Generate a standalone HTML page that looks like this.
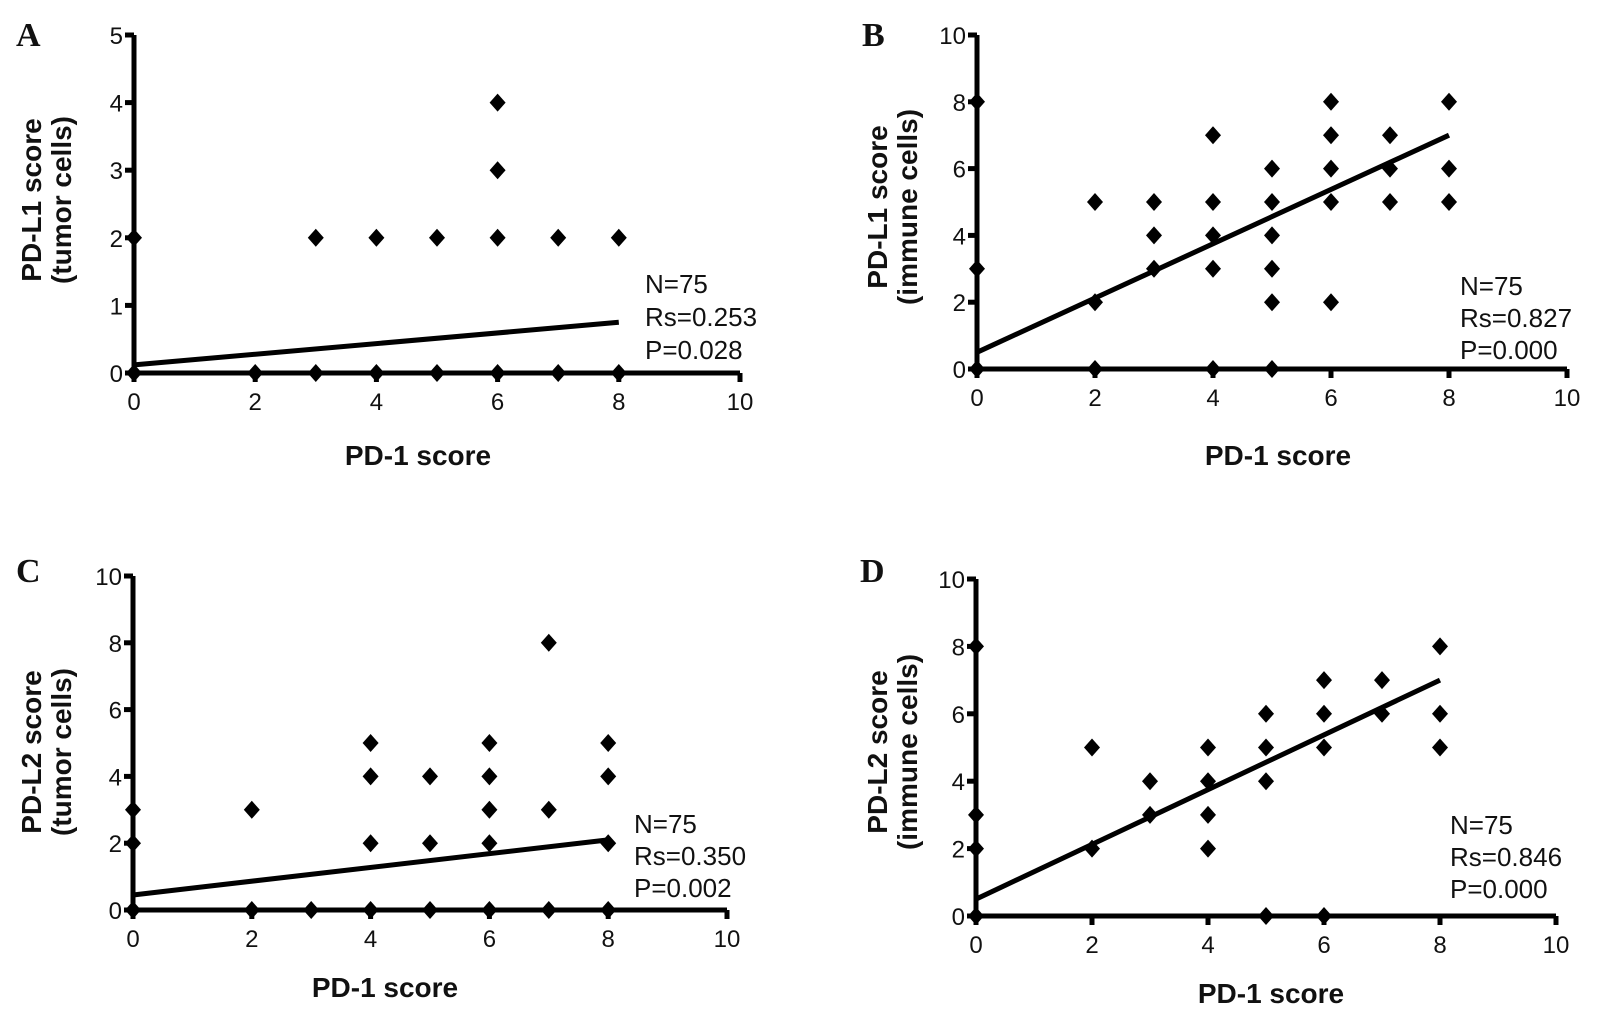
<!DOCTYPE html>
<html><head><meta charset="utf-8"><style>
html,body{margin:0;padding:0;background:#fff;}
svg{display:block;}
text{font-family:"Liberation Sans",sans-serif;fill:#111;}
.tick{font-size:24px;}
.title{font-size:28px;font-weight:bold;}
.stat{font-size:26px;}
.letter{font-family:"Liberation Serif",serif;font-size:34px;font-weight:bold;}
</style></head><body>
<svg id="fig" width="1599" height="1024" viewBox="0 0 1599 1024" xmlns="http://www.w3.org/2000/svg"></svg>
<script>
// Panel A data
const aX = [0,0,2,3,3,4,4,5,5,6,6,6,6,7,7,8,8];
const aY = [0,2,0,0,2,0,2,0,2,0,2,3,4,0,2,0,2];
const aLine = [0.12, 0.75];
const aYTicks = [0,1,2,3,4,5];
const aStats = ["N=75","Rs=0.253","P=0.028"];
// Panel B data
const bX = [0,0,0,2,2,2,3,3,3,4,4,4,4,4,5,5,5,5,5,5,6,6,6,6,6,7,7,7,8,8,8];
const bY = [0,3,8,0,2,5,3,4,5,0,3,4,5,7,0,2,3,4,5,6,2,5,6,7,8,5,6,7,5,6,8];
const bLine = [0.5, 7.0];
const bStats = ["N=75","Rs=0.827","P=0.000"];
// Panel C data
const cX = [0,0,0,2,2,3,4,4,4,4,5,5,5,6,6,6,6,6,7,7,7,8,8,8,8];
const cY = [0,2,3,0,3,0,0,2,4,5,0,2,4,0,2,3,4,5,0,3,8,0,2,4,5];
const cLine = [0.45, 2.1];
const cStats = ["N=75","Rs=0.350","P=0.002"];
// Panel D data
const dX = [0,0,0,0,2,2,3,3,4,4,4,4,5,5,5,5,6,6,6,6,7,7,8,8,8];
const dY = [0,2,3,8,2,5,3,4,2,3,4,5,0,4,5,6,0,5,6,7,6,7,5,6,8];
const dLine = [0.5, 7.0];
const dStats = ["N=75","Rs=0.846","P=0.000"];
const xTicks = [0,2,4,6,8,10];
const y10Ticks = [0,2,4,6,8,10];

const NS="http://www.w3.org/2000/svg";
const svg=document.getElementById('fig');
function mk(tag,attrs,parent){const e=document.createElementNS(NS,tag);for(const k in attrs)e.setAttribute(k,attrs[k]);(parent||svg).appendChild(e);return e;}

const panels=[
 {id:'a',letter:'A',lx:16,ly:46,x0:134,x1:740,y0:373,y1:35,ymax:5,yt:aYTicks,xs:aX,ys:aY,line:aLine,stats:aStats,sx:645,sy:293,sdy:33,
  yl1:'PD-L1 score',yl2:'(tumor cells)',ytx:41,yty:200,xtx:418,xty:465},
 {id:'b',letter:'B',lx:862,ly:46,x0:977,x1:1567,y0:369,y1:35,ymax:10,yt:y10Ticks,xs:bX,ys:bY,line:bLine,stats:bStats,sx:1460,sy:295,sdy:32,
  yl1:'PD-L1 score',yl2:'(immune cells)',ytx:887,yty:207,xtx:1278,xty:465},
 {id:'c',letter:'C',lx:16,ly:582,x0:133,x1:727,y0:910,y1:576,ymax:10,yt:y10Ticks,xs:cX,ys:cY,line:cLine,stats:cStats,sx:634,sy:833,sdy:32,
  yl1:'PD-L2 score',yl2:'(tumor cells)',ytx:41,yty:752,xtx:385,xty:997},
 {id:'d',letter:'D',lx:860,ly:582,x0:976,x1:1556,y0:916,y1:579,ymax:10,yt:y10Ticks,xs:dX,ys:dY,line:dLine,stats:dStats,sx:1450,sy:834,sdy:32,
  yl1:'PD-L2 score',yl2:'(immune cells)',ytx:887,yty:752,xtx:1271,xty:1003}
];

panels.forEach(p=>{
  const g=mk('g',{});
  
  
  const X=v=>p.x0+(p.x1-p.x0)*v/10;
  const Y=v=>p.y0-(p.y0-p.y1)*v/p.ymax;
  const L=mk('text',{x:p.lx,y:p.ly,class:'letter'},g);L.textContent=p.letter;
  
  
  const ax=mk('path',{d:`M${p.x0} ${p.y1} V${p.y0} H${p.x1}`,stroke:'#000','stroke-width':5,fill:'none','stroke-linejoin':'miter'},g);
  
  
  xTicks.forEach(t=>{
    const tl=mk('line',{x1:X(t),x2:X(t),y1:p.y0,y2:p.y0+9,stroke:'#000','stroke-width':5},g);
    
    
    const tx=mk('text',{x:X(t),y:p.y0+37,'text-anchor':'middle',class:'tick'},g);tx.textContent=t;
    
    
  });
  p.yt.forEach(t=>{
    const tl=mk('line',{x1:p.x0-9,x2:p.x0,y1:Y(t),y2:Y(t),stroke:'#000','stroke-width':5},g);
    
    
    const tx=mk('text',{x:p.x0-11,y:Y(t)+9,'text-anchor':'end',class:'tick'},g);tx.textContent=t;
    
    
  });
  p.xs.forEach((xv,i)=>{
    const cx=X(xv),cy=Y(p.ys[i]);
    const d=mk('path',{d:`M${cx} ${cy-9} L${cx+8} ${cy} L${cx} ${cy+9} L${cx-8} ${cy} Z`,fill:'#000'},g);
    
    
  });
  const rl=mk('line',{x1:X(0),y1:Y(p.line[0]),x2:X(8),y2:Y(p.line[1]),stroke:'#000','stroke-width':5},g);
  
  
  p.stats.forEach((s,i)=>{
    const t=mk('text',{x:p.sx,y:p.sy+i*p.sdy,class:'stat'},g);t.textContent=s;
    
    
  });
  const xt=mk('text',{x:p.xtx,y:p.xty,'text-anchor':'middle',class:'title'},g);xt.textContent='PD-1 score';
  
  
  const yt=mk('text',{transform:`translate(${p.ytx},${p.yty}) rotate(-90)`,'text-anchor':'middle',class:'title'},g);
  
  
  const s1=mk('tspan',{x:0,dy:0},yt);s1.textContent=p.yl1;
  const s2=mk('tspan',{x:0,dy:30},yt);s2.textContent=p.yl2;
});
</script>
</body></html>
